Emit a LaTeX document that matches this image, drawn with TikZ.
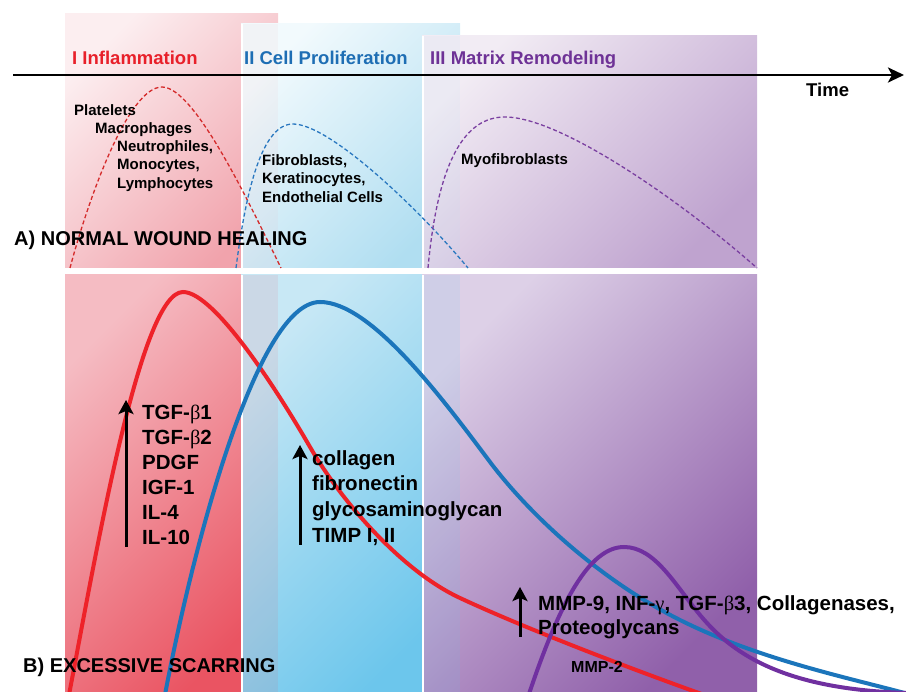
\documentclass[tikz,border=0pt]{standalone}
\usepackage{fontspec}
\setmainfont{Liberation Sans}
\newfontfamily\grk{Liberation Serif}
\usetikzlibrary{arrows.meta}
\definecolor{redTL}{HTML}{FCEEF0}
\definecolor{redBR}{HTML}{F1A3AC}
\definecolor{bluTL}{HTML}{F2FAFD}
\definecolor{bluBR}{HTML}{B0DEF1}
\definecolor{purTL}{HTML}{F2ECF4}
\definecolor{purBR}{HTML}{BFA3CF}
\definecolor{redTLb}{HTML}{F5BCC3}
\definecolor{redBRb}{HTML}{EA5462}
\definecolor{bluTLb}{HTML}{C8E8F5}
\definecolor{bluBRb}{HTML}{6CC6EC}
\definecolor{purTLb}{HTML}{DDD0E7}
\definecolor{purBRb}{HTML}{9060AA}
\definecolor{redtxt}{RGB}{232,32,42}
\definecolor{blutxt}{RGB}{30,110,180}
\definecolor{purtxt}{RGB}{110,50,150}
\definecolor{redln}{HTML}{EE2229}
\definecolor{bluln}{HTML}{1B75BB}
\definecolor{purln}{HTML}{7030A0}
\definecolor{redds}{HTML}{D42A2A}
\definecolor{bluds}{HTML}{2A78C0}
\definecolor{purds}{HTML}{7A3FA0}
\newcommand{\gbet}{{\grk\mdseries β}}
\newcommand{\ggam}{{\grk\mdseries γ}}
\tikzset{
  lbl/.style={anchor=base west, inner sep=0pt, font=\bfseries\fontsize{15}{18}\selectfont},
  cyt/.style={anchor=base west, inner sep=0pt, font=\bfseries\fontsize{20.5}{25}\selectfont},
  phaselbl/.style={anchor=base west, inner sep=0pt, font=\bfseries\fontsize{18.5}{22}\selectfont},
  ttl/.style={anchor=base west, inner sep=0pt, font=\bfseries\fontsize{20}{24}\selectfont},
  dcurve/.style={line width=1.3pt, dash pattern=on 4pt off 2.5pt},
  scurve/.style={line width=4pt},
  uparrow/.style={line width=3pt, -{Stealth[length=14pt,width=15pt,inset=3pt]}},
  sep/.style={white, line width=2.5pt}
}
\begin{document}
\begin{tikzpicture}[x=1pt,y=-1pt]
\useasboundingbox (0,0) rectangle (906,692);
\begin{scope}
\clip (0,0) rectangle (906,692);
% top panels
\shade[top color=redTL, bottom color=redBR, shading angle=45] (65,14) rectangle (278,268);
\shade[top color=bluTL, bottom color=bluBR, shading angle=45] (241,24) rectangle (460,268);
\fill[redBR, opacity=0.08] (243,24) rectangle (278,268);
\shade[top color=purTL, bottom color=purBR, shading angle=45] (422,36) rectangle (757,268);
\fill[bluBR, opacity=0.1] (424,36) rectangle (460,268);
\draw[sep] (242,24) -- (242,268);
\draw[sep] (423,36) -- (423,268);
% bottom panels
\shade[top color=redTLb, bottom color=redBRb, shading angle=45] (65,275) rectangle (278,692);
\shade[top color=bluTLb, bottom color=bluBRb, shading angle=45] (241,275) rectangle (460,692);
\fill[redBRb, opacity=0.1] (243,275) rectangle (278,692);
\shade[top color=purTLb, bottom color=purBRb, shading angle=45] (422,275) rectangle (757,692);
\fill[bluBRb, opacity=0.12] (424,275) rectangle (460,692);
\draw[sep] (242,275) -- (242,692);
\draw[sep] (423,275) -- (423,692);
% dashed curves (normal healing)
\draw[dcurve, redds] (70,268) .. controls (88,200) and (128,87) .. (162,87)
                     .. controls (195,87) and (250,205) .. (281,268);
\draw[dcurve, bluds] (236,268) .. controls (246,190) and (262,124) .. (293,124)
                     .. controls (330,124) and (420,210) .. (468,268);
\draw[dcurve, purds] (428,268) .. controls (438,160) and (465,117) .. (505,117)
                     .. controls (560,117) and (680,200) .. (757,268);
% solid curves (excessive scarring)
\draw[scurve, redln] (68,700) .. controls (95,560) and (140,292) .. (183,292)
                     .. controls (215,292) and (280,395) .. (310,447)
                     .. controls (340,499) and (400,570) .. (460,598)
                     .. controls (520,626) and (620,665) .. (710,697);
\draw[scurve, bluln] (164,700) .. controls (190,560) and (255,302) .. (320,302)
                     .. controls (370,302) and (440,395) .. (490,462)
                     .. controls (530,515) and (600,580) .. (680,620)
                     .. controls (760,660) and (850,678) .. (912,695);
\draw[scurve, purln] (527,700) .. controls (560,600) and (590,547) .. (624,547)
                     .. controls (655,547) and (675,585) .. (700,615)
                     .. controls (730,651) and (780,690) .. (910,693);
\end{scope}
% time axis
\coordinate (t0) at (13,75);
\coordinate (t1) at (904,75);
\draw[line width=2.8pt, -{Stealth[length=16pt,width=15pt,inset=4pt]}] (t0) -- (t1);
\node[phaselbl] (time) at (806,97) {Time};
% phase labels
\node[phaselbl, redtxt] (p1) at (72,64.5) {I Inflammation};
\node[phaselbl, blutxt] (p2) at (244,64.5) {II Cell Proliferation};
\node[phaselbl, purtxt] (p3) at (430,64.5) {III Matrix Remodeling};
% cell labels
\node[lbl] (c1) at (74,116) {Platelets};
\node[lbl] (c2) at (95,133.5) {Macrophages};
\node[lbl] (c3) at (117,151.5) {Neutrophiles,};
\node[lbl] (c4) at (117,170) {Monocytes,};
\node[lbl] (c5) at (117,188.5) {Lymphocytes};
\node[lbl] (c6) at (262,165.5) {Fibroblasts,};
\node[lbl] (c7) at (262,184) {Keratinocytes,};
\node[lbl] (c8) at (262,202.5) {Endothelial Cells};
\node[lbl] (c9) at (461,164.5) {Myofibroblasts};
\node[ttl] (ta) at (14,245.5) {A) NORMAL WOUND HEALING};
\node[ttl] (tb) at (23,672) {B) EXCESSIVE SCARRING};
% cytokines group 1
\coordinate (a1s) at (126,547);
\coordinate (a1e) at (126,400);
\draw[uparrow] (a1s) -- (a1e);
\node[cyt] (g1) at (142,420) {TGF-\gbet1};
\node[cyt] (g2) at (142,445) {TGF-\gbet2};
\node[cyt] (g3) at (142,470) {PDGF};
\node[cyt] (g4) at (142,495) {IGF-1};
\node[cyt] (g5) at (142,519.5) {IL-4};
\node[cyt] (g6) at (142,545) {IL-10};
% group 2
\coordinate (a2s) at (300,545);
\coordinate (a2e) at (300,445);
\draw[uparrow] (a2s) -- (a2e);
\node[cyt] (h1) at (312,466) {collagen};
\node[cyt] (h2) at (312,491) {fibronectin};
\node[cyt] (h3) at (312,516.5) {glycosaminoglycan};
\node[cyt] (h4) at (312,542.5) {TIMP I, II};
% group 3
\coordinate (a3s) at (520,637);
\coordinate (a3e) at (520,587);
\draw[uparrow] (a3s) -- (a3e);
\node[cyt] (k1) at (538,610.5) {MMP-9, INF-\ggam, TGF-\gbet3, Collagenases,};
\node[cyt] (k2) at (538,635) {Proteoglycans};
\node[anchor=base west, inner sep=0pt, font=\bfseries\fontsize{16}{19}\selectfont] (k3) at (571,673) {MMP-2};
\end{tikzpicture}
\end{document}
